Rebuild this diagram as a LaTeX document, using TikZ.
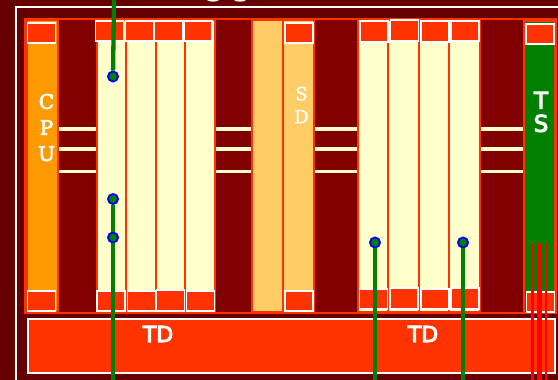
\documentclass[tikz,border=0pt]{standalone}
\usepackage{fontspec}
\usepackage{tikz}
\setmainfont{DejaVu Sans}
\newfontfamily\slabfont[FakeBold=3.5]{DejaVu Serif}
\newfontfamily\thinslab[FakeBold=1.5]{DejaVu Serif}
\newfontfamily\medsans[FakeBold=4.5]{DejaVu Sans}
\definecolor{casedark}{HTML}{660000}
\definecolor{boardred}{HTML}{800000}
\definecolor{padred}{HTML}{FF3300}
\definecolor{cpuorange}{HTML}{FF9900}
\definecolor{sdorange}{HTML}{FFCC66}
\definecolor{memcream}{HTML}{FFFFCC}
\definecolor{tsgreen}{HTML}{008000}

\begin{document}
\begin{tikzpicture}[
  x=1pt, y=-1pt,
  board/.style={rectangle, draw=padred, line width=2.2pt, fill=boardred, outer sep=0pt,
                minimum width=531pt, minimum height=294pt},
  column/.style={rectangle, draw=padred, line width=2.2pt, outer sep=0pt, inner sep=0pt,
                 minimum height=292pt},
  mem/.style={column, fill=memcream, minimum width=29.5pt},
  pad/.style={rectangle, draw=white, line width=1.8pt, fill=padred, outer sep=0pt,
              minimum width=28pt, minimum height=20.4pt},
  busbar/.style={rectangle, draw=white, line width=1.8pt, fill=padred, outer sep=0pt,
                 minimum width=527pt, minimum height=54.6pt},
  trace/.style={draw=memcream, line width=3.8pt, shorten >=1pt, shorten <=1pt},
  via/.style={circle, draw=blue, line width=1.9pt, fill=tsgreen, inner sep=0pt, minimum size=10pt},
  wire/.style={draw=tsgreen, line width=4.3pt},
  redwire/.style={draw=red, line width=2.8pt},
  slab/.style={text=white, align=center, inner sep=0pt},
  tdlabel/.style={text=white, inner sep=0pt, font=\medsans\fontsize{22}{24}\selectfont}
]
\useasboundingbox (0,0) rectangle (558,380);
\clip (0,0) rectangle (558,380);
\fill[casedark] (0,0) rectangle (558,380);
\draw[white, line width=1.9pt] (15.7,380) -- (15.7,6.8) -- (558,6.8);
\fill[white] (207,0) .. controls (209,2.2) and (217,2.2) .. (219,0) -- cycle;
\fill[white] (234,0) .. controls (236,2.2) and (244,2.2) .. (246,0) -- cycle;

\node[board] (brd) at (290.5,166) {};

% columns
\node[column, fill=cpuorange, minimum width=31pt] (cpu) at (42.5,166) {};
\node[mem] (m1) at (111.5,166) {};
\node[mem] (m2) at (141,166) {};
\node[mem] (m3) at (170.5,166) {};
\node[mem] (m4) at (200,166) {};
\node[column, fill=sdorange, minimum width=31pt] (sd1) at (267.5,166) {};
\node[column, fill=sdorange, minimum width=31pt] (sd2) at (298.5,166) {};
\node[mem, minimum width=30pt] (m5) at (373,166) {};
\node[mem, minimum width=31pt] (m6) at (403.5,166) {};
\node[mem, minimum width=30pt] (m7) at (434,166) {};
\node[mem, minimum width=31pt] (m8) at (464.5,166) {};
\node[column, fill=tsgreen, minimum width=31pt, minimum height=292pt] (ts) at (539.5,167) {};

% top pads
\node[pad] (pcpu) at (41.4,33) {};
\node[pad] (pm1) at (109.4,31) {};
\node[pad] (pm2) at (139.5,30.8) {};
\node[pad] (pm3) at (168.5,30.8) {};
\node[pad] (pm4) at (198.3,31) {};
\node[pad] (psd) at (298.8,33) {};
\node[pad] (pm5) at (373.8,31.5) {};
\node[pad] (pm6) at (404.5,30.5) {};
\node[pad] (pm7) at (434.7,31.5) {};
\node[pad] (pm8) at (465,31) {};
\node[pad] (pts) at (540.3,34) {};

% bottom pads
\node[pad] (qcpu) at (41.5,301) {};
\node[pad] (qm1) at (111.3,301) {};
\node[pad] (qm2) at (141.5,301) {};
\node[pad] (qm3) at (170.5,300.5) {};
\node[pad] (qm4) at (200.5,301) {};
\node[pad] (qsd) at (298.8,301) {};
\node[pad] (qm5) at (373.5,299) {};
\node[pad] (qm6) at (404,298.5) {};
\node[pad] (qm7) at (434.7,299) {};
\node[pad] (qm8) at (465,298.5) {};
\node[pad] (qts) at (540.5,302) {};

\node[busbar] (td) at (291.3,346) {};

% traces between columns
\draw[trace] (cpu.east |- 0,129) -- (m1.west |- 0,129);
\draw[trace] (cpu.east |- 0,149) -- (m1.west |- 0,149);
\draw[trace] (cpu.east |- 0,171.5) -- (m1.west |- 0,171.5);
\draw[trace] (m4.east |- 0,129) -- (sd1.west |- 0,129);
\draw[trace] (m4.east |- 0,149) -- (sd1.west |- 0,149);
\draw[trace] (m4.east |- 0,171.5) -- (sd1.west |- 0,171.5);
\draw[trace] (sd2.east |- 0,129) -- (m5.west |- 0,129);
\draw[trace] (sd2.east |- 0,149) -- (m5.west |- 0,149);
\draw[trace] (sd2.east |- 0,171.5) -- (m5.west |- 0,171.5);
\draw[trace] (m8.east |- 0,129) -- (ts.west |- 0,129);
\draw[trace] (m8.east |- 0,149) -- (ts.west |- 0,149);
\draw[trace] (m8.east |- 0,171.5) -- (ts.west |- 0,171.5);

% labels
\node[slab, font=\slabfont\fontsize{20}{26}\selectfont] (lcpu) at (46.5,127.5) {C\\P\\U};
\node[slab, font=\thinslab\fontsize{18}{23}\selectfont] (lsd) at (301.5,105) {S\\D};
\node[slab, font=\medsans\fontsize{23}{23}\selectfont] (lts) at (541,112) {T\\S};
\node[tdlabel] (ltd1) at (158,334) {TD};
\node[tdlabel] (ltd2) at (423,334) {TD};

% vias and wires
\node[via] (v1) at (113,76.5) {};
\node[via] (v2) at (113,199) {};
\node[via] (v3) at (113,237.5) {};
\node[via] (v4) at (375,242.5) {};
\node[via] (v5) at (463,242.5) {};
\coordinate (w1) at (114,0);
\coordinate (w2) at (113,380);
\coordinate (w3) at (375,380);
\coordinate (w4) at (463,380);
\draw[wire] (w1) -- (v1);
\draw[wire] (v2) -- (v3);
\draw[wire] (v3) -- (w2);
\draw[wire] (v4) -- (w3);
\draw[wire] (v5) -- (w4);

\coordinate (r1a) at (532.5,243);
\coordinate (r1b) at (532.5,380);
\coordinate (r2a) at (539.3,243);
\coordinate (r2b) at (539.3,380);
\coordinate (r3a) at (546,243);
\coordinate (r3b) at (546,380);
\draw[redwire] (r1a) -- (r1b);
\draw[redwire, line width=4.8pt] (r2a) -- (r2b);
\draw[redwire] (r3a) -- (r3b);
\end{tikzpicture}
\end{document}
